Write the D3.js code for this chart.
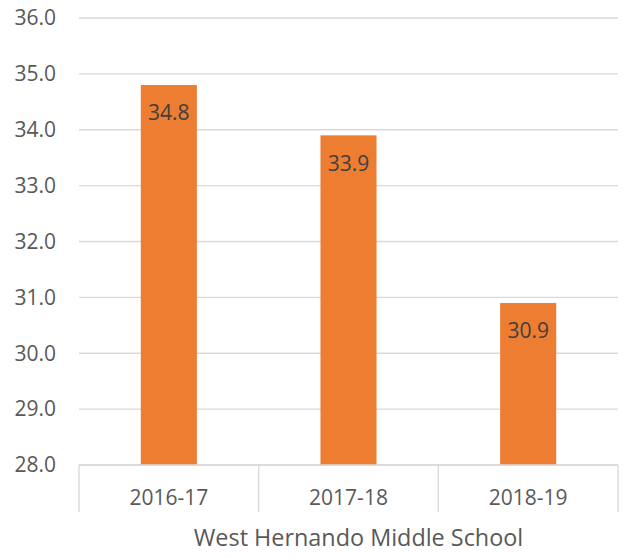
<!DOCTYPE html>
<html>
<head>
<meta charset="utf-8">
<script src="https://cdn.jsdelivr.net/npm/d3@7"></script>
<style>
  body { margin: 0; background: #fff; }
  text { font-family: "Open Sans", sans-serif; }
</style>
</head>
<body>
<div id="chart"></div>
<script>
// data
const years = ["2016-17", "2017-18", "2018-19"];
const values = [34.8, 33.9, 30.9];
const yTicks = [28, 29, 30, 31, 32, 33, 34, 35, 36];
const groupLabel = "West Hernando Middle School";

// dimensions
const W = 626, H = 557;
const margin = {top: 18, right: 8, bottom: 92, left: 79},
    width = W - margin.left - margin.right,
    height = H - margin.top - margin.bottom;

const svg = d3.select("#chart")
  .append("svg")
    .attr("width", W)
    .attr("height", H);

const g = svg.append("g")
    .attr("transform", `translate(${margin.left},${margin.top})`);

// scales
const x = d3.scaleBand().domain(years).range([0, width]).padding(0);
const y = d3.scaleLinear().domain([28, 36]).range([height, 0]);
const barW = x.bandwidth() * 0.312;

// gridlines
g.append("g")
  .selectAll("line")
  .data(yTicks)
  .join("line")
    .attr("x1", 0)
    .attr("x2", width)
    .attr("y1", d => y(d))
    .attr("y2", d => y(d))
    .attr("stroke", "#d9d9d9")
    .attr("stroke-width", 1.3);

// y labels
g.append("g")
  .selectAll("text")
  .data(yTicks)
  .join("text")
    .attr("x", -23)
    .attr("y", d => y(d))
    .attr("dy", "0.35em")
    .attr("text-anchor", "end")
    .attr("fill", "#595959")
    .style("font-size", "21px")
    .text(d => d.toFixed(1));

// bars
g.append("g")
  .selectAll("rect")
  .data(values)
  .join("rect")
    .attr("x", (d, i) => x(years[i]) + x.bandwidth() / 2 - barW / 2)
    .attr("y", d => y(d))
    .attr("width", barW)
    .attr("height", d => y(28) - y(d))
    .attr("fill", "#ed7d31");

// value labels
g.append("g")
  .selectAll("text")
  .data(values)
  .join("text")
    .attr("x", (d, i) => x(years[i]) + x.bandwidth() / 2)
    .attr("y", d => y(d) + 28)
    .attr("dy", "0.35em")
    .attr("text-anchor", "middle")
    .attr("fill", "#404040")
    .style("font-size", "21px")
    .text(d => d.toFixed(1));

// category separators
const seps = years.map(d => x(d)).concat([width]);
g.append("g")
  .selectAll("line")
  .data(seps)
  .join("line")
    .attr("x1", d => d)
    .attr("x2", d => d)
    .attr("y1", height)
    .attr("y2", height + 47)
    .attr("stroke", "#d9d9d9")
    .attr("stroke-width", 1.3);

g.append("line")
    .attr("x1", 0)
    .attr("x2", width)
    .attr("y1", height)
    .attr("y2", height)
    .attr("stroke", "#d9d9d9")
    .attr("stroke-width", 1.3);

// category labels
g.append("g")
  .selectAll("text")
  .data(years)
  .join("text")
    .attr("x", d => x(d) + x.bandwidth() / 2)
    .attr("y", height + 40)
    .attr("text-anchor", "middle")
    .attr("fill", "#595959")
    .style("font-size", "21px")
    .text(d => d);

// group label
g.append("text")
    .attr("x", width / 2 + 10)
    .attr("y", height + 81)
    .attr("text-anchor", "middle")
    .attr("fill", "#595959")
    .style("font-size", "23.4px")
    .text(groupLabel);
</script>
</body>
</html>
